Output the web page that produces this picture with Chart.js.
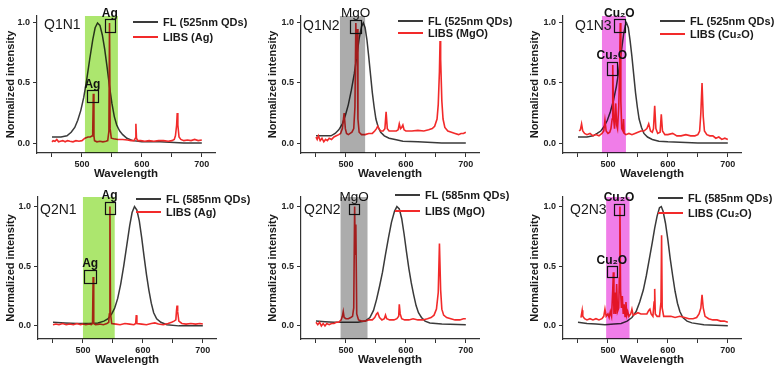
<!DOCTYPE html>
<html>
<head>
<meta charset="utf-8">
<script src="https://cdn.jsdelivr.net/npm/chart.js@4/dist/chart.umd.min.js"></script>
<style>
  html, body { margin: 0; padding: 0; background: #fff; }
  #wrap { position: relative; width: 782px; height: 374px; overflow: hidden; }
  #wrap canvas { position: absolute; }
</style>
</head>
<body>
<div id="wrap">
  <canvas id="c1" width="260" height="187" style="left:0;top:0"></canvas>
  <canvas id="c2" width="260" height="187" style="left:260px;top:0"></canvas>
  <canvas id="c3" width="262" height="187" style="left:520px;top:0"></canvas>
  <canvas id="c4" width="260" height="187" style="left:0;top:187px"></canvas>
  <canvas id="c5" width="260" height="187" style="left:260px;top:187px"></canvas>
  <canvas id="c6" width="262" height="187" style="left:520px;top:187px"></canvas>
</div>
<script>
// axis ticks (wavelength in nm, normalized intensity)
const xTicks = [450, 500, 550, 600, 650, 700];
const yTicks = [0, 0.5, 1.0];

// shaded wavelength windows
const q1n1Band = [505, 560];
const q1n2Band = [490, 532];
const q1n3Band = [490, 530];
const q2n1Band = [500, 553];
const q2n2Band = [491, 536];
const q2n3Band = [497, 536];

// peak boxes [nm from, nm to, intensity from, intensity to]
const q1n1Boxes = [[538, 555, 0.925, 1.03], [508, 527, 0.34, 0.44]];
const q1n2Boxes = [[507, 525, 0.917, 1.025]];
const q1n3Boxes = [[510, 528, 0.925, 1.03], [498, 515, 0.567, 0.675]];
const q2n1Boxes = [[536, 553, 0.94, 1.04], [502, 522, 0.36, 0.47]];
const q2n2Boxes = [[505, 522, 0.94, 1.02]];
const q2n3Boxes = [[510, 527, 0.93, 1.02], [498, 515, 0.41, 0.5]];

// FL spectra [nm, intensity]
const q1n1Fl = [[450,0.05],[465,0.05],[475,0.06],[482,0.09],[488,0.13],[493,0.19],[498,0.27],[503,0.38],[508,0.53],[513,0.7],[518,0.86],[522,0.96],[526,1.0],[530,0.98],[534,0.9],[538,0.78],[542,0.63],[546,0.47],[550,0.33],[554,0.22],[558,0.15],[563,0.1],[568,0.07],[575,0.04],[585,0.02],[600,0.01],[630,0.01],[670,0.0],[700,0.0]];
const q1n2Fl = [[450,0.06],[465,0.06],[475,0.06],[482,0.08],[488,0.11],[494,0.16],[499,0.23],[504,0.32],[509,0.44],[514,0.58],[518,0.72],[522,0.87],[526,0.97],[529,1.0],[532,0.96],[535,0.86],[538,0.72],[541,0.57],[544,0.42],[547,0.3],[550,0.2],[554,0.13],[558,0.09],[564,0.06],[572,0.04],[582,0.03],[595,0.015],[620,0.01],[660,0.0],[700,0.0]];
const q1n3Fl = [[450,0.05],[465,0.05],[475,0.06],[482,0.08],[488,0.1],[494,0.14],[499,0.19],[504,0.26],[509,0.35],[514,0.47],[518,0.6],[522,0.75],[526,0.9],[529,0.98],[531,1.0],[534,0.96],[537,0.85],[540,0.72],[543,0.57],[546,0.42],[549,0.3],[552,0.2],[556,0.13],[560,0.08],[566,0.05],[574,0.03],[585,0.015],[600,0.01],[650,0.0],[700,0.0]];
const q2n1Fl = [[450,0.03],[470,0.025],[490,0.02],[510,0.02],[525,0.025],[535,0.04],[542,0.06],[548,0.1],[553,0.15],[558,0.23],[563,0.35],[568,0.5],[573,0.67],[578,0.84],[582,0.95],[586,1.0],[590,0.97],[594,0.88],[598,0.74],[602,0.58],[606,0.43],[610,0.3],[614,0.19],[618,0.11],[623,0.06],[630,0.03],[640,0.01],[660,0.0],[700,0.0]];
const q2n2Fl = [[450,0.04],[465,0.035],[480,0.03],[500,0.03],[520,0.03],[532,0.04],[540,0.07],[546,0.13],[551,0.22],[556,0.33],[561,0.45],[566,0.6],[571,0.74],[576,0.87],[581,0.96],[585,1.0],[589,0.98],[593,0.9],[597,0.77],[601,0.62],[605,0.48],[609,0.36],[613,0.26],[617,0.17],[621,0.11],[626,0.07],[632,0.04],[640,0.025],[660,0.015],[700,0.01]];
const q2n3Fl = [[450,0.03],[465,0.02],[480,0.015],[495,0.01],[510,0.015],[522,0.02],[532,0.04],[540,0.07],[547,0.12],[553,0.2],[559,0.3],[564,0.42],[569,0.56],[574,0.7],[578,0.82],[582,0.92],[586,0.99],[589,1.0],[592,0.96],[596,0.86],[600,0.72],[604,0.56],[608,0.42],[612,0.29],[616,0.19],[620,0.12],[625,0.07],[632,0.04],[640,0.025],[660,0.01],[700,0.0]];

// LIBS spectra [nm, intensity]
const q1n1Libs = [[450,0.01],[452,0.02],[455,0.015],[458,0.03],[461,0.01],[464,0.015],[468,0.02],[472,0.01],[476,0.02],[480,0.015],[485,0.01],[490,0.02],[495,0.015],[500,0.02],[505,0.04],[510,0.05],[514,0.05],[517,0.06],[518,0.1],[519,0.41],[520,0.06],[521,0.02],[525,0.01],[530,0.015],[535,0.01],[540,0.015],[543,0.02],[545,0.1],[546,1.0],[547,0.12],[549,0.04],[553,0.035],[560,0.03],[568,0.03],[576,0.025],[582,0.02],[587,0.02],[589,0.04],[590,0.16],[591,0.04],[593,0.02],[598,0.02],[605,0.015],[612,0.02],[620,0.015],[628,0.02],[636,0.02],[644,0.015],[650,0.02],[654,0.03],[656,0.06],[658,0.15],[659,0.25],[660,0.15],[662,0.05],[665,0.03],[670,0.02],[676,0.025],[682,0.02],[688,0.03],[694,0.02],[700,0.025]];
const q1n2Libs = [[450,0.05],[452,0.03],[454,0.06],[457,0.02],[460,0.04],[463,0.01],[466,0.03],[469,0.02],[472,0.04],[476,0.03],[480,0.05],[484,0.06],[488,0.07],[491,0.08],[494,0.12],[497,0.25],[499,0.12],[501,0.08],[504,0.07],[507,0.08],[510,0.09],[513,0.12],[515,0.3],[516.5,1.0],[517.5,0.7],[518.5,0.95],[520,0.2],[522,0.09],[526,0.07],[532,0.07],[538,0.08],[544,0.08],[548,0.1],[551,0.12],[553,0.14],[555,0.12],[558,0.1],[562,0.1],[565,0.12],[567,0.26],[569,0.12],[572,0.1],[578,0.1],[584,0.1],[587,0.11],[589,0.16],[591,0.12],[593,0.13],[595,0.15],[597,0.11],[600,0.1],[610,0.1],[620,0.105],[630,0.1],[638,0.11],[644,0.12],[648,0.14],[652,0.2],[654,0.32],[656,0.6],[657,0.85],[658,0.7],[660,0.35],[662,0.2],[665,0.13],[670,0.1],[676,0.09],[682,0.08],[688,0.07],[692,0.08],[696,0.08],[700,0.09]];
const q1n3Libs = [[452,0.1],[454,0.11],[456,0.16],[458,0.1],[461,0.08],[465,0.07],[470,0.08],[475,0.06],[480,0.07],[485,0.06],[490,0.08],[493,0.1],[495,0.19],[497,0.1],[500,0.08],[503,0.09],[505,0.12],[507,0.2],[508,0.65],[509.5,0.2],[511,0.12],[513,0.33],[514.5,0.15],[516,0.12],[518,0.3],[519.5,0.6],[520.5,1.0],[521.5,0.35],[523,0.12],[525,0.1],[526,0.2],[527,0.08],[530,0.07],[535,0.08],[540,0.07],[545,0.08],[550,0.09],[555,0.1],[560,0.1],[565,0.12],[568,0.16],[571,0.1],[574,0.09],[576,0.12],[578,0.31],[580,0.12],[583,0.08],[587,0.09],[589,0.24],[591,0.1],[595,0.07],[600,0.07],[608,0.08],[615,0.06],[622,0.06],[630,0.07],[638,0.06],[645,0.06],[650,0.07],[653,0.1],[655,0.25],[657,0.5],[659,0.22],[661,0.1],[665,0.07],[670,0.06],[675,0.06],[680,0.04],[685,0.05],[690,0.03],[695,0.04],[700,0.03]];
const q2n1Libs = [[450,0.01],[455,0.015],[460,0.01],[466,0.02],[472,0.01],[478,0.015],[484,0.01],[490,0.02],[496,0.01],[500,0.015],[505,0.01],[510,0.015],[514,0.01],[516,0.02],[517,0.41],[518,0.02],[521,0.01],[528,0.015],[534,0.01],[540,0.02],[543,0.03],[544,0.1],[545,1.0],[546,0.1],[548,0.02],[555,0.015],[562,0.01],[570,0.02],[578,0.015],[585,0.01],[588,0.02],[589,0.09],[590,0.02],[598,0.015],[606,0.01],[614,0.02],[620,0.025],[626,0.015],[634,0.01],[642,0.02],[648,0.03],[652,0.04],[655,0.05],[656,0.12],[657,0.17],[658,0.12],[660,0.04],[665,0.02],[672,0.015],[680,0.02],[688,0.015],[695,0.02],[700,0.015]];
const q2n2Libs = [[450,0.03],[453,0.01],[456,0.03],[459,0.0],[462,0.02],[465,0.0],[468,0.02],[472,0.01],[476,0.02],[480,0.02],[484,0.03],[488,0.03],[492,0.05],[494,0.08],[495.5,0.12],[497,0.07],[500,0.06],[504,0.06],[508,0.07],[511,0.08],[513,0.15],[514.5,1.0],[515.5,0.6],[516.5,0.85],[518,0.1],[521,0.05],[526,0.04],[532,0.04],[538,0.05],[544,0.05],[548,0.07],[551,0.1],[553,0.11],[556,0.07],[560,0.05],[564,0.06],[566,0.09],[568,0.06],[573,0.05],[580,0.05],[585,0.06],[588,0.08],[589,0.18],[590.5,0.1],[593,0.06],[598,0.05],[605,0.05],[612,0.06],[620,0.05],[628,0.05],[636,0.06],[642,0.07],[647,0.09],[651,0.14],[654,0.28],[656,0.69],[658,0.3],[660,0.14],[663,0.09],[668,0.07],[675,0.06],[682,0.05],[690,0.05],[696,0.06],[700,0.06]];
const q2n3Libs = [[455,0.07],[456,0.1],[457,0.13],[458,0.08],[461,0.06],[465,0.05],[470,0.06],[475,0.05],[480,0.06],[485,0.05],[490,0.06],[493,0.08],[495,0.14],[497,0.08],[500,0.1],[502,0.07],[504,0.12],[506,0.08],[508,0.3],[509,0.45],[510,0.1],[511.5,0.28],[513,0.1],[514.5,0.35],[516,0.12],[518,0.15],[519,0.4],[520,1.0],[521,0.3],[522.5,0.15],[524,0.25],[525.5,0.1],[527,0.18],[528.5,0.08],[530,0.2],[531.5,0.09],[533,0.12],[535,0.08],[538,0.1],[540,0.14],[542,0.09],[546,0.1],[550,0.11],[555,0.1],[560,0.1],[565,0.1],[568,0.13],[570,0.14],[572,0.1],[575,0.08],[577,0.2],[578,0.31],[579,0.1],[582,0.08],[586,0.08],[588.5,0.2],[589.5,0.76],[590.5,0.15],[593,0.08],[598,0.08],[605,0.08],[612,0.07],[620,0.08],[628,0.07],[635,0.06],[642,0.06],[648,0.07],[652,0.1],[655,0.15],[657,0.26],[659,0.15],[662,0.08],[668,0.06],[675,0.05],[682,0.05],[688,0.04],[694,0.04],[700,0.03]];

const FONT = "'Liberation Sans', Arial, sans-serif";
const INK = '#1a1a1a';
const flColor = '#3a3a3a';
const libsColor = '#f22a2a';
const green = 'rgb(172,230,110)';
const gray = 'rgb(172,172,172)';
const pink = 'rgb(240,125,232)';

const rows = [
  { padT: 16, padB: 2, yMin: -0.083, yMax: 1.058 },
  { padT: 10, padB: 3, yMin: -0.11, yMax: 1.08 }
];

const panels = [
  { canvas: 'c1', name: 'Q1N1', row: 0, fl: q1n1Fl, libs: q1n1Libs, flLabel: 'FL (525nm QDs)', libsLabel: 'LIBS (Ag)',
    band: q1n1Band, bandColor: green, boxes: q1n1Boxes, boxText: ['Ag', 'Ag'], boxFont: `bold 12px ${FONT}`,
    padL: 0, axisW: 37, padR: 45, nameDx: 7, nameDy: 13, legDx: 96, legDy: [6, 21] },
  { canvas: 'c2', name: 'Q1N2', row: 0, fl: q1n2Fl, libs: q1n2Libs, flLabel: 'FL (525nm QDs)', libsLabel: 'LIBS (MgO)',
    band: q1n2Band, bandColor: gray, boxes: q1n2Boxes, boxText: ['MgO'], boxFont: `13.5px ${FONT}`,
    padL: 2, axisW: 39, padR: 41, nameDx: 2, nameDy: 14, legDx: 97, legDy: [5, 17] },
  { canvas: 'c3', name: 'Q1N3', row: 0, fl: q1n3Fl, libs: q1n3Libs, flLabel: 'FL (525nm QDs)', libsLabel: 'LIBS (Cu₂O)',
    band: q1n3Band, bandColor: pink, boxes: q1n3Boxes, boxText: ['Cu₂O', 'Cu₂O'], boxFont: `bold 12px ${FONT}`,
    padL: 4, axisW: 39, padR: 41, nameDx: 12, nameDy: 14, legDx: 97, legDy: [5, 18] },
  { canvas: 'c4', name: 'Q2N1', row: 1, fl: q2n1Fl, libs: q2n1Libs, flLabel: 'FL (585nm QDs)', libsLabel: 'LIBS (Ag)',
    band: q2n1Band, bandColor: green, boxes: q2n1Boxes, boxText: ['Ag', 'Ag'], boxFont: `bold 12px ${FONT}`,
    padL: 0, axisW: 38, padR: 44, nameDx: 2, nameDy: 17, legDx: 98, legDy: [2, 15] },
  { canvas: 'c5', name: 'Q2N2', row: 1, fl: q2n2Fl, libs: q2n2Libs, flLabel: 'FL (585nm QDs)', libsLabel: 'LIBS (MgO)',
    band: q2n2Band, bandColor: gray, boxes: q2n2Boxes, boxText: ['MgO'], boxFont: `13.5px ${FONT}`,
    padL: 2, axisW: 39, padR: 41, nameDx: 3, nameDy: 17, legDx: 94, legDy: [-2, 14] },
  { canvas: 'c6', name: 'Q2N3', row: 1, fl: q2n3Fl, libs: q2n3Libs, flLabel: 'FL (585nm QDs)', libsLabel: 'LIBS (Cu₂O)',
    band: q2n3Band, bandColor: pink, boxes: q2n3Boxes, boxText: ['Cu₂O', 'Cu₂O'], boxFont: `bold 12px ${FONT}`,
    padL: 4, axisW: 39, padR: 41, nameDx: 7, nameDy: 17, legDx: 95, legDy: [1, 16] }
];

function pts(list) {
  return list.map(p => ({ x: p[0], y: p[1] }));
}

// band, peak boxes, panel name and legend for one panel
function makeDecor(p) {
  return {
    id: 'decor',
    afterDatasetsDraw(chart) {
      const { ctx, chartArea: a, scales: { x } } = chart;
      const x0 = x.getPixelForValue(p.band[0]);
      const x1 = x.getPixelForValue(p.band[1]);
      ctx.save();
      ctx.globalCompositeOperation = 'multiply';
      ctx.fillStyle = p.bandColor;
      ctx.fillRect(x0, a.top, x1 - x0, a.bottom - a.top);
      ctx.restore();
    },
    afterDraw(chart) {
      const { ctx, chartArea: a, scales: { x, y } } = chart;
      ctx.save();
      ctx.strokeStyle = '#111';
      ctx.lineWidth = 1.2;
      ctx.fillStyle = '#111';
      ctx.font = p.boxFont;
      ctx.textAlign = 'center';
      ctx.textBaseline = 'bottom';
      p.boxes.forEach((b, i) => {
        const l = x.getPixelForValue(b[0]), r = x.getPixelForValue(b[1]);
        const t = y.getPixelForValue(b[3]), bt = y.getPixelForValue(b[2]);
        ctx.strokeRect(Math.round(l) + 0.5, Math.round(t) + 0.5, Math.round(r - l), Math.round(bt - t));
        ctx.fillText(p.boxText[i], (l + r) / 2, t);
      });

      ctx.textAlign = 'left';
      ctx.textBaseline = 'alphabetic';
      ctx.fillStyle = INK;
      ctx.font = `14px ${FONT}`;
      ctx.fillText(p.name, a.left + p.nameDx, a.top + p.nameDy);

      ctx.font = `bold 11px ${FONT}`;
      ctx.textBaseline = 'middle';
      chart.data.datasets.forEach((ds, i) => {
        const lx = a.left + p.legDx;
        const ly = a.top + p.legDy[i];
        ctx.strokeStyle = ds.borderColor;
        ctx.lineWidth = 2;
        ctx.beginPath();
        ctx.moveTo(lx, ly);
        ctx.lineTo(lx + 25, ly);
        ctx.stroke();
        ctx.fillStyle = INK;
        ctx.fillText(ds.label, lx + 30, ly + 0.5);
      });
      ctx.restore();
    }
  };
}

panels.forEach(p => {
  const r = rows[p.row];
  new Chart(document.getElementById(p.canvas), {
    type: 'line',
    data: {
      datasets: [
        { label: p.flLabel, data: pts(p.fl), borderColor: flColor, borderWidth: 1.5, order: 2 },
        { label: p.libsLabel, data: pts(p.libs), borderColor: libsColor, borderWidth: 1.6, order: 1 }
      ]
    },
    options: {
      responsive: false,
      animation: false,
      events: [],
      elements: { point: { radius: 0 }, line: { tension: 0 } },
      layout: { padding: { left: p.padL, right: p.padR, top: r.padT, bottom: r.padB } },
      scales: {
        x: {
          type: 'linear', min: 425, max: 722,
          afterBuildTicks: s => { s.ticks = xTicks.map(v => ({ value: v })); },
          afterFit: s => { s.height = 32; },
          grid: { drawOnChartArea: false, drawTicks: true, tickLength: 4, color: '#333' },
          border: { display: true, color: '#333', width: 1.2 },
          ticks: { padding: 2, color: '#222', font: { family: FONT, size: 9, weight: 'bold' },
                   maxRotation: 0, autoSkip: false, callback: v => (v % 100 === 0 ? String(v) : '') },
          title: { display: true, text: 'Wavelength', color: INK, font: { family: FONT, size: 11.5, weight: 'bold' } }
        },
        y: {
          min: r.yMin, max: r.yMax,
          afterBuildTicks: s => { s.ticks = yTicks.map(v => ({ value: v })); },
          afterFit: s => { s.width = p.axisW; },
          grid: { drawOnChartArea: false, drawTicks: true, tickLength: 4, color: '#333' },
          border: { display: true, color: '#333', width: 1.2 },
          ticks: { padding: 3, color: '#222', font: { family: FONT, size: 9, weight: 'bold' },
                   callback: v => Number(v).toFixed(1) },
          title: { display: true, text: 'Normalized intensity', color: INK, font: { family: FONT, size: 11, weight: 'bold' } }
        }
      },
      plugins: { legend: { display: false }, tooltip: { enabled: false } }
    },
    plugins: [makeDecor(p)]
  });
});
</script>
</body>
</html>
